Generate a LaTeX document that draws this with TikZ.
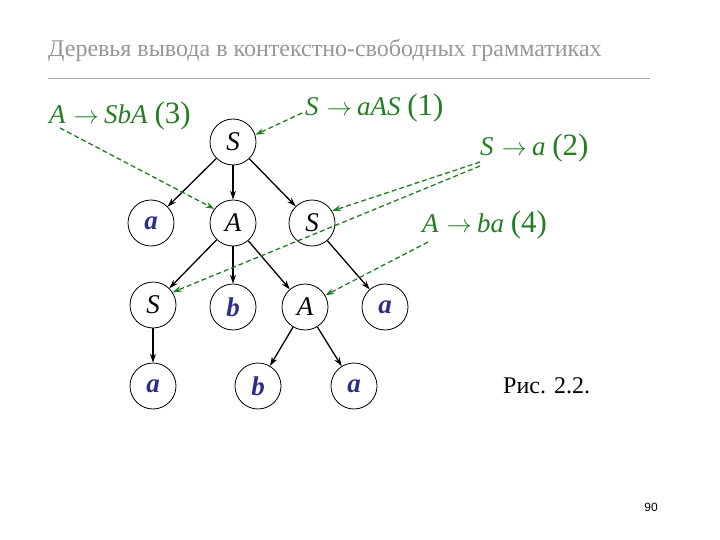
\documentclass[tikz,border=0pt]{standalone}
\usepackage{fontspec}
\setmainfont{Liberation Serif}
\newfontfamily\pagenumfont{Liberation Sans}
\usetikzlibrary{arrows.meta}
\definecolor{grn}{RGB}{35,125,35}
\definecolor{nblue}{RGB}{45,45,135}
\definecolor{titlegray}{RGB}{150,150,150}
\definecolor{rulegray}{RGB}{170,170,170}
\newcommand{\prodarrow}{\hspace{0.3em}{\fontsize{29}{31}\selectfont$\rightarrow$}\hspace{0.2em}}
\newcommand{\prodnum}[1]{\hspace{0.25em}{\fontsize{31}{33}\selectfont(#1)}}
\begin{document}
\begin{tikzpicture}[x=1pt,y=-1pt,
  nd/.style={circle,draw,line width=0.8pt,minimum size=46pt,inner sep=0pt,
    font=\fontsize{27}{29}\selectfont\itshape},
  term/.style={nd,text=nblue,font=\fontsize{27}{29}\selectfont\bfseries\itshape},
  edge/.style={-{Stealth[length=9pt,width=6pt]},line width=1.3pt},
  rulearrow/.style={grn,line width=1.3pt,dash pattern=on 5pt off 3pt,
    -{Stealth[length=9pt,width=6pt]}},
  lab/.style={anchor=base west,text=grn,inner sep=0pt,font=\fontsize{27}{29}\selectfont}]
\useasboundingbox (0,0) rectangle (720,540);
% title
\node[anchor=base west,inner sep=0pt,text=titlegray,font=\fontsize{24}{26}\selectfont] (title) at (48,57) {Деревья вывода в контекстно-свободных грамматиках};
\draw[rulegray,line width=1pt] (48,79) -- (650,79);
% tree
\node[nd] (root) at (233,142) {S};
\node[term] (a1) at (151,223) {a};
\node[nd] (A1) at (233,223) {A};
\node[nd] (S1) at (312,223) {S};
\node[nd] (S2) at (153,305) {S};
\node[term] (b1) at (233,307) {b};
\node[nd] (A2) at (305,307) {A};
\node[term] (a2) at (385,307) {a};
\node[term] (a3) at (153,386) {a};
\node[term] (b2) at (258,386) {b};
\node[term] (a4) at (354,386) {a};
\draw[edge] (root) -- (a1);
\draw[edge] (root) -- (A1);
\draw[edge] (root) -- (S1);
\draw[edge] (A1) -- (S2);
\draw[edge] (A1) -- (b1);
\draw[edge] (A1) -- (A2);
\draw[edge] (S1) -- (a2);
\draw[edge] (S2) -- (a3);
\draw[edge] (A2) -- (b2);
\draw[edge] (A2) -- (a4);
% rule labels
\node[lab] (r3) at (49,124) {\textit{A}\prodarrow\textit{SbA}\prodnum{3}};
\node[lab] (r1) at (305,116) {\textit{S}\prodarrow\textit{aAS}\prodnum{1}};
\node[lab] (r2) at (480,156) {\textit{S}\prodarrow\textit{a}\prodnum{2}};
\node[lab] (r4) at (422,233) {\textit{A}\prodarrow\textit{ba}\prodnum{4}};
\coordinate (p3) at (60,128);
\coordinate (p1) at (302,113);
\coordinate (p2a) at (480,162);
\coordinate (p2b) at (480,166);
\coordinate (p4) at (428,242);
\draw[rulearrow] (p1) -- (root.18);
\draw[rulearrow] (p3) -- (A1.143);
\draw[rulearrow] (p2a) -- (S1.31);
\draw[rulearrow] (p2b) -- (S2.33);
\draw[rulearrow] (p4) -- (A2.30);
% caption
\node[anchor=base west,inner sep=0pt,font=\fontsize{24}{26}\selectfont] (cap) at (503,393) {Рис. 2.2.};
\node[inner sep=0pt,font=\pagenumfont\fontsize{12}{14}\selectfont] (pg) at (651,507) {90};
\end{tikzpicture}
\end{document}
